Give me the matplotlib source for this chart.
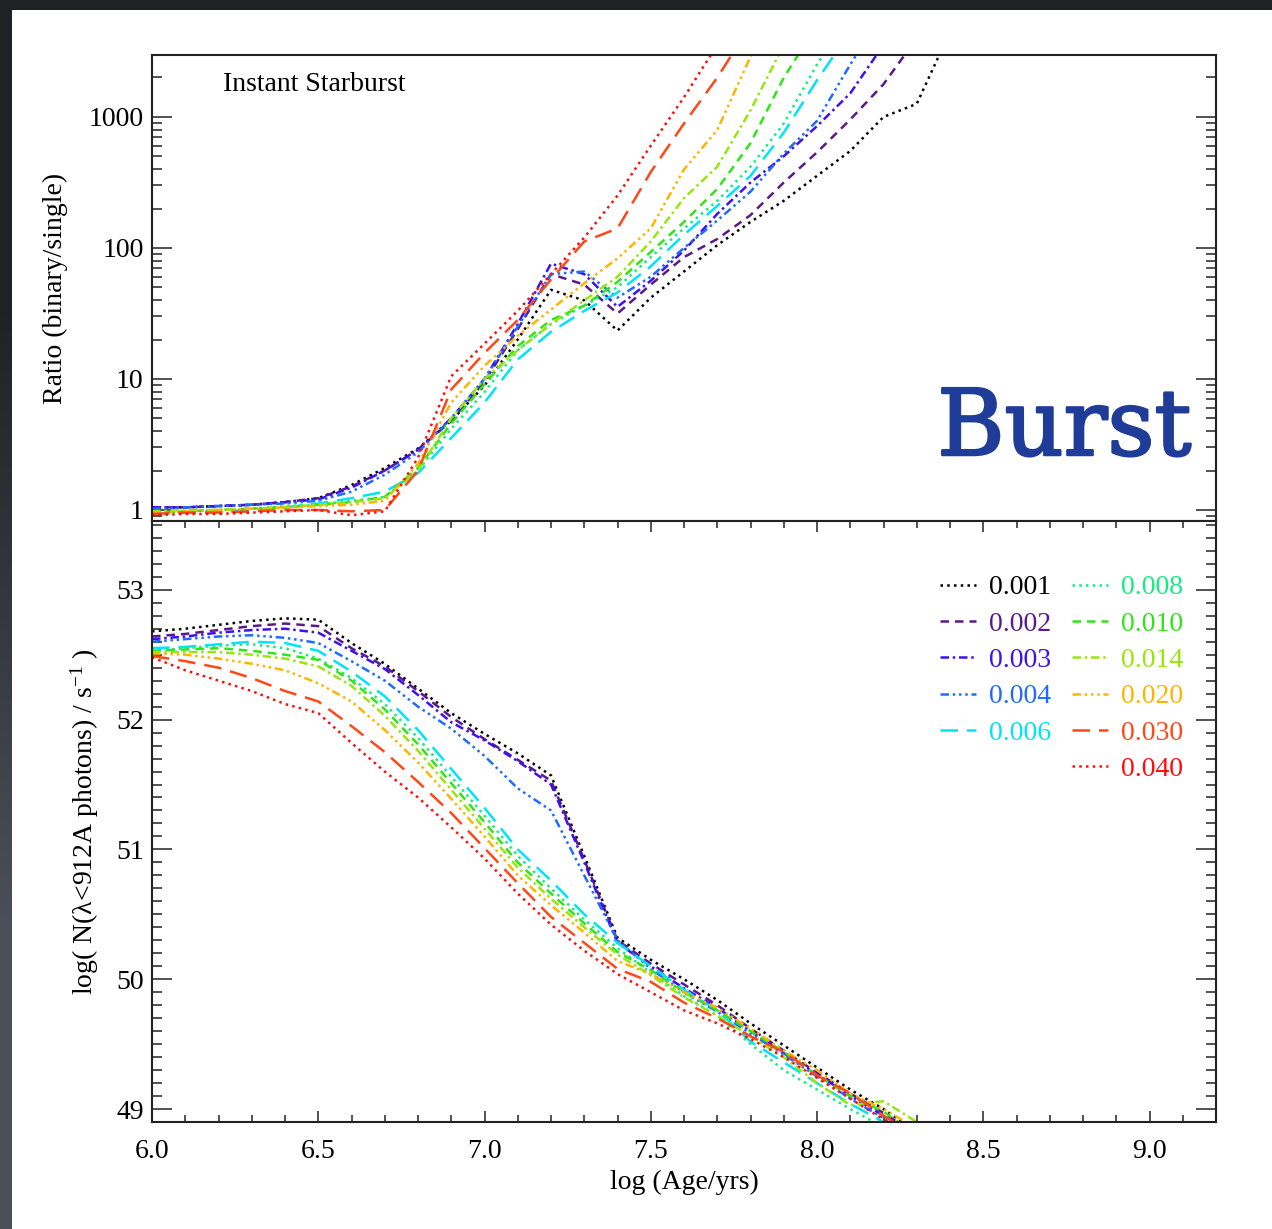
import matplotlib
matplotlib.use("Agg")
import matplotlib.pyplot as plt
from matplotlib import ticker
from matplotlib import patheffects

plt.rcParams['font.family'] = ['Liberation Serif', 'DejaVu Serif']
plt.rcParams['mathtext.fontset'] = 'custom'
plt.rcParams['mathtext.rm'] = 'Liberation Serif'
plt.rcParams['mathtext.it'] = 'Liberation Serif:italic'

# ---------------------------------------------------------------- data
metallicities = ['0.001', '0.002', '0.003', '0.004', '0.006', '0.008',
                 '0.010', '0.014', '0.020', '0.030', '0.040']

# log(age / yr) grid for the ratio panel
age_ratio = [6.0, 6.1, 6.2, 6.3, 6.4, 6.5, 6.6, 6.7, 6.8, 6.9, 7.0, 7.1, 7.2,
             7.3, 7.4, 7.5, 7.6, 7.7, 7.8, 7.9, 8.0, 8.1, 8.2, 8.3, 8.4]

# binary / single ionising photon ratio, one list per metallicity
ratio_z001 = [1.047, 1.047, 1.072, 1.096, 1.148, 1.23, 1.55, 2.09, 2.95, 4.79, 8.91, 20.0, 47.9,
              39.8, 23.4, 41.7, 66.1, 105, 158, 229, 355, 550, 1000, 1259, 4467]
ratio_z002 = [1.047, 1.047, 1.072, 1.096, 1.148, 1.23, 1.51, 2.0, 2.88, 4.79, 9.55, 24.0, 63.1,
              52.5, 31.6, 52.5, 85.1, 117, 178, 316, 537, 955, 1778, 3981, 7943]
ratio_z003 = [1.047, 1.047, 1.072, 1.096, 1.148, 1.202, 1.48, 2.0, 2.88, 5.01, 10.0, 26.3, 75.9,
              63.1, 35.5, 56.2, 95.5, 182, 316, 501, 851, 1514, 3548, 7943, 15800]
ratio_z004 = [1.023, 1.047, 1.072, 1.096, 1.122, 1.175, 1.38, 1.86, 2.75, 5.01, 10.0, 25.1, 63.1,
              66.1, 41.7, 60.3, 100, 162, 269, 525, 933, 2512, 6310, 12600, 25000]
ratio_z006 = [0.933, 0.955, 0.977, 1.0, 1.047, 1.122, 1.23, 1.38, 1.91, 3.55, 6.61, 14.1, 22.9,
              33.1, 45.7, 72.4, 126, 209, 355, 759, 1905, 4467, 10000, 20000, 40000]
ratio_z008 = [0.955, 0.977, 1.0, 1.023, 1.072, 1.096, 1.175, 1.259, 2.0, 4.17, 7.94, 16.6, 26.3,
              36.3, 50.1, 85.1, 141, 229, 417, 891, 2512, 6310, 12600, 25000, 50000]
ratio_z010 = [0.955, 0.977, 1.0, 1.023, 1.047, 1.096, 1.148, 1.259, 2.09, 4.57, 9.12, 17.8, 28.2,
              36.3, 55.0, 93.3, 158, 282, 631, 1995, 5012, 10000, 20000, 40000, 79000]
ratio_z014 = [0.977, 1.0, 1.0, 1.023, 1.047, 1.096, 1.148, 1.23, 2.0, 5.01, 10.0, 16.6, 26.3,
              39.8, 60.3, 112, 240, 417, 1122, 3548, 7943, 15800, 31600, 63000, 100000]
ratio_z020 = [0.955, 0.977, 1.0, 1.023, 1.047, 1.072, 1.096, 1.175, 2.24, 6.61, 12.6, 21.4, 33.9,
              53.7, 83.2, 141, 398, 794, 2884, 7943, 15800, 31600, 63000, 100000, 158000]
ratio_z030 = [0.933, 0.955, 0.955, 0.977, 1.0, 1.0, 0.977, 1.0, 2.0, 8.32, 15.8, 28.2, 57.5,
              112, 141, 380, 891, 1995, 5012, 10000, 20000, 40000, 79000, 126000, 200000]
ratio_z040 = [0.912, 0.933, 0.933, 0.955, 0.977, 1.0, 0.912, 0.977, 2.51, 10.5, 18.6, 33.1, 63.1,
              120, 251, 603, 1413, 3548, 7943, 15800, 31600, 63000, 100000, 158000, 251000]

# log(age / yr) grid for the photon-rate panel
age_ion = [6.0, 6.1, 6.2, 6.3, 6.4, 6.5, 6.6, 6.7, 6.8, 6.9, 7.0, 7.1, 7.2,
           7.3, 7.4, 7.5, 7.6, 7.7, 7.8, 7.9, 8.0, 8.1, 8.2, 8.3]

# log N(lambda < 912A) / s^-1, one list per metallicity
nion_z001 = [52.68, 52.70, 52.73, 52.76, 52.78, 52.77, 52.59, 52.43, 52.24, 52.05, 51.89, 51.74,
             51.57, 50.95, 50.32, 50.15, 50.00, 49.84, 49.66, 49.49, 49.32, 49.15, 49.00, 48.82]
nion_z002 = [52.64, 52.66, 52.69, 52.72, 52.74, 52.72, 52.55, 52.41, 52.22, 52.02, 51.85, 51.69,
             51.53, 50.92, 50.30, 50.12, 49.96, 49.80, 49.62, 49.45, 49.28, 49.12, 48.97, 48.80]
nion_z003 = [52.62, 52.64, 52.67, 52.69, 52.70, 52.67, 52.53, 52.39, 52.19, 51.98, 51.84, 51.68,
             51.50, 50.90, 50.28, 50.10, 49.93, 49.78, 49.60, 49.43, 49.27, 49.10, 48.95, 48.78]
nion_z004 = [52.60, 52.62, 52.64, 52.65, 52.63, 52.59, 52.45, 52.30, 52.10, 51.93, 51.72, 51.47,
             51.30, 50.80, 50.30, 50.08, 49.90, 49.75, 49.58, 49.42, 49.25, 49.08, 48.93, 48.75]
nion_z006 = [52.55, 52.56, 52.58, 52.60, 52.59, 52.53, 52.37, 52.18, 51.92, 51.62, 51.32, 51.00,
             50.76, 50.50, 50.28, 50.10, 49.92, 49.76, 49.52, 49.36, 49.20, 49.04, 48.90, 48.72]
nion_z008 = [52.53, 52.55, 52.57, 52.58, 52.55, 52.47, 52.32, 52.12, 51.86, 51.56, 51.26, 50.95,
             50.70, 50.46, 50.24, 50.05, 49.87, 49.72, 49.50, 49.30, 49.15, 49.00, 48.86, 48.70]
nion_z010 = [52.53, 52.54, 52.55, 52.53, 52.50, 52.46, 52.30, 52.08, 51.81, 51.51, 51.21, 50.90,
             50.66, 50.43, 50.21, 50.07, 49.90, 49.76, 49.60, 49.44, 49.26, 49.10, 48.98, 48.80]
nion_z014 = [52.52, 52.52, 52.52, 52.50, 52.47, 52.41, 52.26, 52.03, 51.76, 51.46, 51.16, 50.86,
             50.62, 50.40, 50.19, 50.03, 49.86, 49.72, 49.56, 49.40, 49.20, 49.03, 49.06, 48.90]
nion_z020 = [52.51, 52.50, 52.47, 52.43, 52.38, 52.28, 52.14, 51.92, 51.67, 51.39, 51.10, 50.80,
             50.57, 50.36, 50.14, 50.04, 49.90, 49.78, 49.62, 49.45, 49.30, 49.12, 49.00, 48.85]
nion_z030 = [52.49, 52.45, 52.40, 52.32, 52.22, 52.14, 51.95, 51.75, 51.52, 51.28, 51.01, 50.74,
             50.48, 50.28, 50.08, 49.98, 49.82, 49.70, 49.56, 49.44, 49.26, 49.12, 48.95, 48.78]
nion_z040 = [52.48, 52.38, 52.30, 52.22, 52.12, 52.05, 51.82, 51.60, 51.40, 51.17, 50.93, 50.66,
             50.42, 50.22, 50.04, 49.90, 49.76, 49.66, 49.54, 49.40, 49.24, 49.08, 48.92, 48.75]

ratio_series = [ratio_z001, ratio_z002, ratio_z003, ratio_z004, ratio_z006, ratio_z008,
                ratio_z010, ratio_z014, ratio_z020, ratio_z030, ratio_z040]
nion_series = [nion_z001, nion_z002, nion_z003, nion_z004, nion_z006, nion_z008,
               nion_z010, nion_z014, nion_z020, nion_z030, nion_z040]

ratio_ticks = [1, 10, 100, 1000]
nion_ticks = [49, 50, 51, 52, 53]
age_ticks = [6.0, 6.5, 7.0, 7.5, 8.0, 8.5, 9.0]

# ---------------------------------------------------------------- styles
colors = ['#000000', '#5a1a8c', '#3c10f2', '#1e6cff', '#00e4f8', '#12ee82',
          '#30e418', '#98e60c', '#ffb400', '#ff4818', '#ff0c0c']
dotted = (0, (1.0, 1.7))
dashed = (0, (3.4, 2.4))
dashdot = (0, (3.4, 1.5, 1.0, 1.5))
dash3dot = (0, (3.4, 1.5, 1.0, 1.5, 1.0, 1.5, 1.0, 1.5))
longdash = (0, (7.0, 3.6))
styles = [dotted, dashed, dashdot, dash3dot, longdash,
          dotted, dashed, dashdot, dash3dot, longdash, dotted]
LW = 1.8

W, H = 1272, 1229
fig = plt.figure(figsize=(W / 100, H / 100), dpi=100, facecolor='white')

# screen frame around the figure
frame_top = fig.add_axes([0, 1 - 10 / H, 1, 10 / H])
frame_top.set_axis_off()
frame_top.add_patch(plt.Rectangle((0, 0), 1, 1, color='#202124', transform=frame_top.transAxes))
frame_left = fig.add_axes([0, 0, 12 / W, 1])
frame_left.set_axis_off()
frame_left.imshow([[0.0], [1.0]], aspect='auto', extent=(0, 1, 0, 1),
                  cmap=matplotlib.colors.LinearSegmentedColormap.from_list(
                      'frame', ['#202124', '#4a4e56']), interpolation='bilinear')

x0, x1 = 152, 1216
y_top, y_mid, y_bot = 55, 521, 1122
ax1 = fig.add_axes([x0 / W, 1 - y_mid / H, (x1 - x0) / W, (y_mid - y_top) / H])
ax2 = fig.add_axes([x0 / W, 1 - y_bot / H, (x1 - x0) / W, (y_bot - y_mid) / H])

for rs, ns, c, ls, z in zip(ratio_series, nion_series, colors, styles, metallicities):
    ax1.plot(age_ratio, rs, color=c, linestyle=ls, lw=LW)
    ax2.plot(age_ion, ns, color=c, linestyle=ls, lw=LW, label=z)

# ---------------------------------------------------------------- axes styling
for ax in (ax1, ax2):
    ax.set_xlim(6.0, 9.2)
    for sp in ax.spines.values():
        sp.set_linewidth(1.5)
        sp.set_color('#222222')

ax1.set_yscale('log')
ax1.set_ylim(0.824, 2970)
ax1.yaxis.set_major_locator(ticker.FixedLocator(ratio_ticks))
ax1.yaxis.set_major_formatter(ticker.FuncFormatter(lambda v, p: '%d' % round(v)))
ax1.yaxis.set_minor_locator(ticker.LogLocator(base=10, subs=range(2, 10)))
ax1.yaxis.set_minor_formatter(ticker.NullFormatter())
ax1.tick_params(axis='x', which='both', bottom=False, top=False, labelbottom=False)
ax1.tick_params(axis='y', which='both', direction='in', left=True, right=True,
                labelsize=20, width=1.1, color='#222222')
ax1.tick_params(axis='y', which='major', length=14.5, pad=6)
ax1.tick_params(axis='y', which='minor', length=7.2)
ax1.set_ylabel('Ratio (binary/single)', fontsize=20, va='center')
ax1.yaxis.set_label_coords((55 - x0) / (x1 - x0), 0.5)

ax2.set_ylim(48.9, 53.53)
ax2.yaxis.set_major_locator(ticker.FixedLocator(nion_ticks))
ax2.yaxis.set_minor_locator(ticker.MultipleLocator(0.1))
ax2.xaxis.set_major_locator(ticker.FixedLocator(age_ticks))
ax2.xaxis.set_minor_locator(ticker.MultipleLocator(0.1))
ax2.xaxis.set_major_formatter(ticker.FormatStrFormatter('%.1f'))
ax2.tick_params(axis='both', which='both', direction='in', left=True, right=True,
                top=True, bottom=True, labelsize=20, width=1.1, color='#222222')
ax2.tick_params(axis='y', which='major', length=14.5, pad=6)
ax2.tick_params(axis='y', which='minor', length=7.2)
ax2.tick_params(axis='x', which='major', length=8, pad=12.5)
ax2.tick_params(axis='x', which='minor', length=4.8)
ax2.set_ylabel(r'log( N(λ<912A photons) / s$^{\mathregular{-1}}$ )', fontsize=20, va='center')
ax2.yaxis.set_label_coords((85 - x0) / (x1 - x0), 0.5)
ax2.set_xlabel('log (Age/yrs)', fontsize=20, va='center')
ax2.xaxis.set_label_coords(0.5, -(1182 - y_bot) / (y_bot - y_mid))

# ---------------------------------------------------------------- legend (two columns)
handles, labels = ax2.get_legend_handles_labels()
leg_kw = dict(frameon=False, fontsize=20, labelcolor='linecolor', handlelength=1.3,
              handletextpad=0.45, labelspacing=0.39, borderpad=0, borderaxespad=0,
              loc='upper left')
leg_top = (y_bot - 575) / (y_bot - y_mid)
leg1 = ax2.legend(handles[:5], labels[:5],
                  bbox_to_anchor=((940 - x0) / (x1 - x0), leg_top), **leg_kw)
ax2.add_artist(leg1)
ax2.legend(handles[5:], labels[5:],
           bbox_to_anchor=((1072 - x0) / (x1 - x0), leg_top), **leg_kw)

# ---------------------------------------------------------------- annotations
fig.text(223 / W, 1 - 91 / H, 'Instant Starburst', fontsize=20, ha='left', va='baseline')
burst_color = '#1f3c98'
fig.text(1191 / W, 1 - 455 / H, 'Burst', fontsize=66, color=burst_color,
         family='DejaVu Serif', ha='right', va='baseline',
         path_effects=[patheffects.withStroke(linewidth=1.8, foreground=burst_color)])

fig.savefig('out.png', dpi=100, facecolor='white')
